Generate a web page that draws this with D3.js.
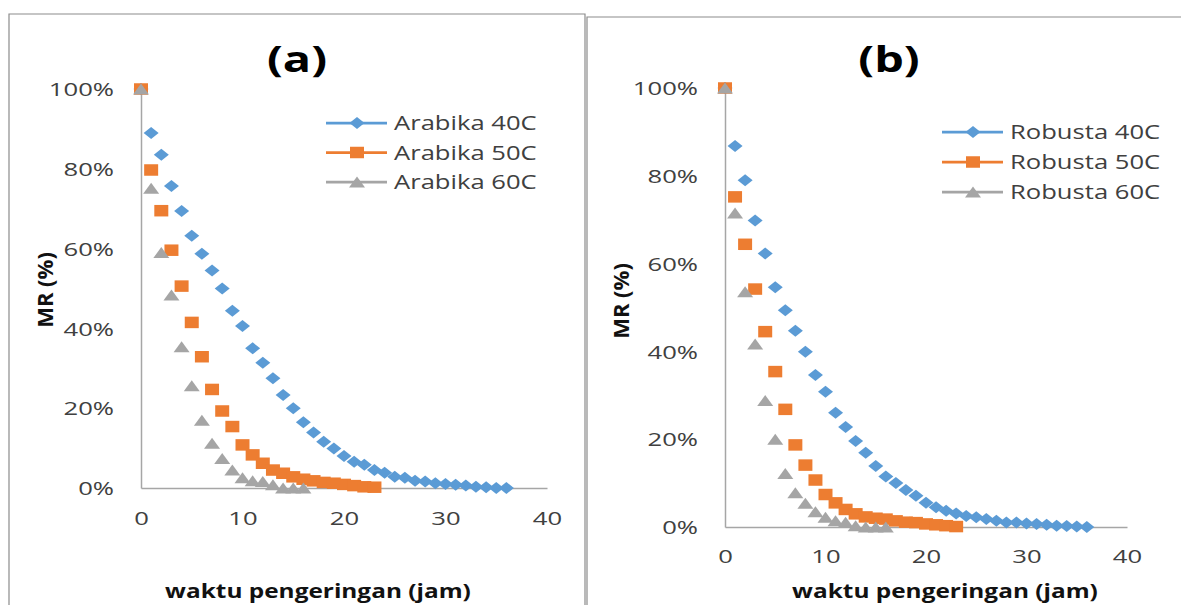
<!DOCTYPE html>
<html>
<head>
<meta charset="utf-8">
<script src="https://cdn.jsdelivr.net/npm/d3@7"></script>
<style>
  html, body { margin: 0; padding: 0; background: #fff; }
  svg { display: block; font-family: "Open Sans", sans-serif; }
</style>
</head>
<body>
<div id="chart"></div>
<script>
// MR (%), one value per hour starting at 0
const arabika40 = [100, 89, 83.5, 75.7, 69.4, 63.2, 58.7, 54.5, 50, 44.4, 40.6, 35, 31.4, 27.5, 23.3, 20, 16.5, 13.9, 11.6, 9.9, 8, 6.6, 5.8, 4.5, 3.8, 2.8, 2.6, 1.8, 1.6, 1.2, 1.0, 0.8, 0.6, 0.3, 0.2, 0, 0];
const arabika50 = [100, 79.7, 69.5, 59.6, 50.6, 41.5, 32.9, 24.7, 19.3, 15.4, 10.8, 8.3, 6.2, 4.5, 3.7, 2.8, 2.2, 1.8, 1.4, 1.2, 0.9, 0.6, 0.3, 0.2];
const arabika60 = [100, 75.1, 59, 48.4, 35.4, 25.6, 17, 11.2, 7.4, 4.5, 2.6, 1.8, 1.6, 0.8, 0, 0, 0];
const robusta40 = [100, 86.8, 79, 69.8, 62.3, 54.6, 49.4, 44.7, 39.9, 34.6, 30.8, 26, 22.8, 19.6, 16.9, 13.9, 11.5, 10, 8.4, 7.1, 5.5, 4.5, 3.7, 3.1, 2.5, 2.2, 1.8, 1.4, 1.0, 1.0, 0.8, 0.7, 0.5, 0.3, 0.2, 0.1, 0];
const robusta50 = [100, 75.2, 64.4, 54.2, 44.5, 35.4, 26.8, 18.7, 14.1, 10.7, 7.4, 5.5, 4.0, 3.0, 2.3, 2.0, 1.8, 1.4, 1.1, 1.0, 0.7, 0.5, 0.3, 0.1];
const robusta60 = [100, 71.5, 53.6, 41.7, 28.8, 20, 12.2, 7.8, 5.4, 3.5, 2.2, 1.4, 1.1, 0.3, 0, 0, 0];

const arabikaLabels = ["Arabika 40C", "Arabika 50C", "Arabika 60C"];
const robustaLabels = ["Robusta 40C", "Robusta 50C", "Robusta 60C"];
const panelTitles = ["(a)", "(b)"];
const xTicks = [0, 10, 20, 30, 40];
const yTicks = [0, 20, 40, 60, 80, 100];
const xTitle = "waktu pengeringan (jam)";
const yTitle = "MR (%)";

const colors = ["#5B9BD5", "#ED7D31", "#A5A5A5"];
const markers = ["diamond", "square", "triangle"];

const width = 1181, height = 605;

// the original figure is stretched sideways, so text is too
const SX_TICK = 1.35, SX_LEG = 1.28, SX_AXT = 1.22, SX_TTL = 1.3;

const panels = [
  { title: panelTitles[0], series: [arabika40, arabika50, arabika60], labels: arabikaLabels,
    frame: { l: 9, t: 14, r: 585 }, plot: { l: 141, r: 547, t: 89, b: 488 },
    titlePos: [297, 72], legend: { x: 326, y: 123, dy: 29.5 }, xLabY: 518,
    xTitlePos: [318, 598], yTitlePos: [53, 290] },
  { title: panelTitles[1], series: [robusta40, robusta50, robusta60], labels: robustaLabels,
    frame: { l: 587, t: 17, r: 1200 }, plot: { l: 725, r: 1127, t: 88, b: 527 },
    titlePos: [889, 72], legend: { x: 942, y: 132, dy: 30 }, xLabY: 556,
    xTitlePos: [945, 598], yTitlePos: [629, 301] }
];

function markerPath(kind) {
  if (kind === "diamond") return "M0,-6L7.5,0L0,6L-7.5,0Z";
  if (kind === "square") return "M-7,-5.75H7V5.75H-7Z";
  return "M0,-5.5L8,5.5L-8,5.5Z";
}

const svg = d3.select("#chart").append("svg")
  .attr("width", width)
  .attr("height", height);

panels.forEach(p => {
  const g = svg.append("g");

  // chart frame
  g.append("path")
    .attr("d", `M${p.frame.l},${height + 5}V${p.frame.t}H${p.frame.r}V${height + 5}`)
    .attr("fill", "none")
    .attr("stroke", "#8c8c8c")
    .attr("stroke-width", 1.2);

  const x = d3.scaleLinear().domain([0, 40]).range([p.plot.l, p.plot.r]);
  const y = d3.scaleLinear().domain([0, 100]).range([p.plot.b, p.plot.t]);

  // axes
  const yAxis = g.append("g")
    .attr("transform", `translate(${p.plot.l},0)`)
    .call(d3.axisLeft(y).tickValues(yTicks).tickSize(0).tickFormat(d => d + "%"));
  const xAxis = g.append("g")
    .attr("transform", `translate(0,${p.plot.b})`)
    .call(d3.axisBottom(x).tickValues(xTicks).tickSize(0));

  [yAxis, xAxis].forEach(a => {
    a.select(".domain").attr("stroke", "#a6a6a6").attr("stroke-width", 1.5);
    a.selectAll("text")
      .attr("fill", "#404040")
      .style("font-size", "19px")
      .attr("font-family", "Open Sans");
  });
  yAxis.selectAll("text")
    .attr("x", null).attr("dy", "0.35em")
    .attr("text-anchor", "end")
    .attr("transform", `translate(${-(p.plot.l - (p.plot.l - 27))},0) scale(${SX_TICK},1)`);
  xAxis.selectAll("text")
    .attr("y", null).attr("dy", "0.35em")
    .attr("transform", `translate(0,${p.xLabY - p.plot.b}) scale(${SX_TICK},1)`);

  // points, 40C first so 60C sits on top
  p.series.forEach((vals, si) => {
    g.append("g")
      .selectAll("path")
      .data(vals)
      .join("path")
      .attr("d", markerPath(markers[si]))
      .attr("fill", colors[si])
      .attr("transform", (d, i) => `translate(${x(i)},${y(d)})`);
  });

  // panel title
  g.append("text")
    .attr("transform", `translate(${p.titlePos[0]},${p.titlePos[1]}) scale(${SX_TTL},1)`)
    .attr("text-anchor", "middle")
    .attr("font-weight", "bold")
    .style("font-size", "36px")
    .attr("fill", "#000")
    .text(p.title);

  // axis titles
  g.append("text")
    .attr("transform", `translate(${p.xTitlePos[0]},${p.xTitlePos[1]}) scale(${SX_AXT},1)`)
    .attr("text-anchor", "middle")
    .attr("font-weight", "bold")
    .style("font-size", "20px")
    .attr("fill", "#111")
    .text(xTitle);

  g.append("text")
    .attr("transform", `translate(${p.yTitlePos[0]},${p.yTitlePos[1]}) rotate(-90)`)
    .attr("text-anchor", "middle")
    .attr("font-weight", "bold")
    .style("font-size", "22px")
    .attr("fill", "#111")
    .text(yTitle);

  // legend
  const leg = g.append("g")
    .selectAll("g")
    .data(p.labels)
    .join("g")
    .attr("transform", (d, i) => `translate(${p.legend.x},${p.legend.y + i * p.legend.dy})`);

  leg.append("line")
    .attr("x1", 0).attr("x2", 61)
    .attr("stroke", (d, i) => colors[i])
    .attr("stroke-width", 2.75);
  leg.append("path")
    .attr("d", (d, i) => markerPath(markers[i]))
    .attr("transform", "translate(31,0)")
    .attr("fill", (d, i) => colors[i]);
  leg.append("text")
    .attr("transform", `translate(68,0) scale(${SX_LEG},1)`)
    .attr("dy", "0.35em")
    .style("font-size", "20px")
    .attr("fill", "#404040")
    .text(d => d);
});
</script>
</body>
</html>
